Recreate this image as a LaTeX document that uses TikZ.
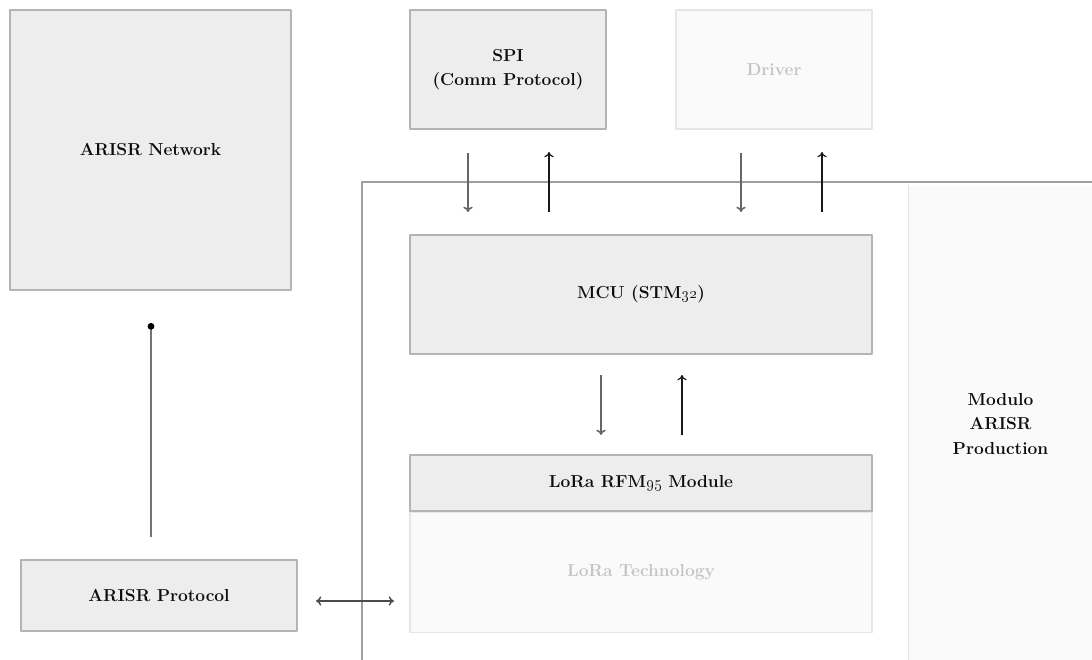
\documentclass[tikz,border=0pt]{standalone}
\usetikzlibrary{arrows.meta}
\definecolor{boxfill}{HTML}{EDEDED}
\definecolor{boxline}{HTML}{B4B4B4}
\definecolor{palefill}{HTML}{FAFAFA}
\definecolor{paleline}{HTML}{E6E6E6}
\definecolor{paletext}{HTML}{C4C4C4}
\definecolor{frameline}{HTML}{A0A0A0}
\begin{document}
\begin{tikzpicture}[x=0.75pt,y=-0.75pt,line join=round,
		font=\fontsize{13}{18.5}\selectfont\bfseries,
		box/.style={draw=boxline,fill=boxfill,line width=0.9pt,inner sep=0pt,align=center,text=black!95},
		pale/.style={draw=paleline,fill=palefill,line width=0.9pt,inner sep=0pt,align=center,text=paletext},
		dn/.style={-{To[length=4pt,width=7pt]},draw=black!60,line width=1.2pt},
		up/.style={-{To[length=4pt,width=7pt]},draw=black!90,line width=0.9pt}]
			\useasboundingbox (0,0) rectangle (1092,660);
			% production module and frame
			\node[pale,draw=none,text=black!95,minimum width=137.25pt,minimum height=357.75pt](prod) at (1000.5,424){Modulo\\ARISR\\Production};
			\draw[paleline,line width=0.9pt](prod.north west)--(prod.south west);
			\draw[frameline,line width=0.9pt](362,662)--(362,182)--(1092,182);
			% blocks
			\node[box,minimum width=210.75pt,minimum height=210pt](net) at (150.5,150){ARISR Network};
			\node[box,minimum width=147pt,minimum height=89.25pt](spi) at (508,69.5){SPI\\(Comm Protocol)};
			\node[pale,minimum width=147pt,minimum height=89.25pt](drv) at (774,69.5){Driver};
			\node[box,minimum width=346.5pt,minimum height=89.25pt](mcu) at (641,294.5){MCU (STM\oldstylenums{32})};
			\node[box,minimum width=346.5pt,minimum height=42pt](rfm) at (641,483){LoRa RFM\oldstylenums{95} Module};
			\node[pale,minimum width=346.5pt,minimum height=90pt,anchor=north](tech) at (rfm.south){LoRa Technology};
			\draw[boxline,line width=0.9pt](rfm.south west)--(rfm.south east);
			\node[box,minimum width=207pt,minimum height=53.25pt](prot) at (159,595.5){ARISR Protocol};
			% arrow ends
			\coordinate(spiA) at (468,153); \coordinate(spiB) at (468,212);
			\coordinate(spiC) at (549,212); \coordinate(spiD) at (549,152);
			\coordinate(drvA) at (741,153); \coordinate(drvB) at (741,212);
			\coordinate(drvC) at (822,212); \coordinate(drvD) at (822,152);
			\coordinate(mcuA) at (601,375); \coordinate(mcuB) at (601,435);
			\coordinate(mcuC) at (682,435); \coordinate(mcuD) at (682,375);
			\coordinate(protA) at (151,537); \coordinate(netA) at (151,323);
			\coordinate(protB) at (316,601); \coordinate(techA) at (394,601);
			% connectors
			\draw[dn](spiA)--(spiB);
			\draw[up](spiC)--(spiD);
			\draw[dn](drvA)--(drvB);
			\draw[up](drvC)--(drvD);
			\draw[dn](mcuA)--(mcuB);
			\draw[up](mcuC)--(mcuD);
			\draw[-{Circle[length=5pt,black]},black!55,line width=1.4pt](protA)--(netA);
			\draw[{To[length=4pt,width=7pt]}-{To[length=4pt,width=7pt]},black!70,line width=1.1pt](protB)--(techA);
		\end{tikzpicture}
\end{document}
